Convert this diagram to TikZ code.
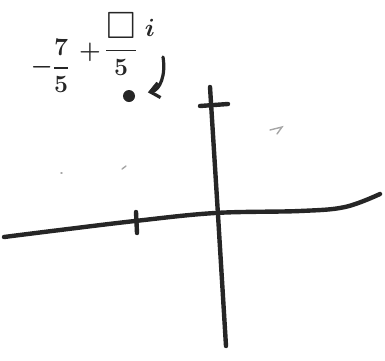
\documentclass[tikz,border=0pt]{standalone}
\usepackage{amssymb}
\usetikzlibrary{arrows.meta}
\begin{document}
\begin{tikzpicture}[x=1pt,y=-1pt,
  ink/.style={draw=black!85,line width=4.4pt,line cap=round,line join=round},
  pen/.style={draw=black!85,line width=3.2pt,line cap=round,line join=round},
  faint/.style={draw=black!35,line width=1.4pt,line cap=round},
  hand/.style={text=black!85,inner sep=0pt,font=\fontsize{38}{42}\selectfont\boldmath}]
\useasboundingbox (0,0) rectangle (385,360);
% axes
\coordinate (xl) at (4,237);
\coordinate (xr) at (380,194);
\coordinate (yt) at (210,87);
\coordinate (yb) at (226,346);
\draw[ink] plot[smooth,tension=0.6] coordinates {(xl) (60,230) (135,221) (215,213) (300,211) (345,207) (xr)};
\draw[ink] (yt) -- (218,215) -- (yb);
% ticks
\coordinate (t1a) at (200,106);
\coordinate (t1b) at (228,104);
\draw[ink] (t1a) -- (t1b);
\coordinate (t2a) at (136,212);
\coordinate (t2b) at (137,233);
\draw[ink] (t2a) -- (t2b);
% point
\node[circle,fill=black!85,inner sep=0pt,minimum size=12pt] (pt) at (129,96) {};
% label, rising to the right
\node[hand,font=\fontsize{42}{46}\selectfont\boldmath] (la) at (50,66) {$\displaystyle -\frac{7}{5}$};
\node[hand,font=\fontsize{28}{32}\selectfont\boldmath] (lb) at (90,52) {$+$};
\node[hand] (lc) at (121,44) {$\displaystyle \frac{\square}{5}$};
\node[hand] (ld) at (150,28) {$i$};
% arrow
\coordinate (as) at (163,57);
\draw[pen,-{Straight Barb[length=9pt,width=15pt]},shorten >=13pt] (as) .. controls (166,75) and (160,90) .. (pt);
% faint marks
\coordinate (f1) at (270,130);
\draw[faint] (f1) -- (282,127) -- (277,134);
\coordinate (f2) at (122,169);
\draw[faint] (f2) -- (126,166);
\coordinate (f3) at (61,173);
\draw[faint] (f3) -- (62,173);
\end{tikzpicture}
\end{document}
